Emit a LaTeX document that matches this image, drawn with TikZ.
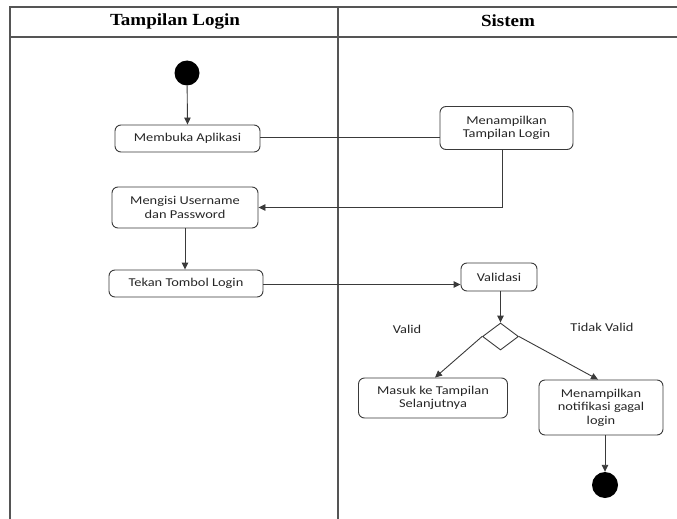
\documentclass[tikz,border=0pt]{standalone}
\usepackage{fontspec}
\setmainfont{Carlito}
\newfontfamily\hdrfont[FakeStretch=1.12]{Liberation Serif}
\newfontfamily\boxfont[FakeStretch=1.2]{Carlito}
\usetikzlibrary{shapes.geometric,arrows.meta}
\definecolor{ln}{HTML}{3A3A3A}
\definecolor{fr}{HTML}{555555}
\tikzset{
  act/.style={draw=ln, line width=0.9pt, rounded corners=6pt, align=center, inner sep=0pt,
    font=\boxfont\fontsize{12}{13.6}\selectfont, text=black!85},
  dot/.style={circle, fill=black, inner sep=0pt, minimum size=#1},
  conn/.style={draw=ln, line width=0.9pt},
  arr/.style={conn, -{Triangle[length=7pt,width=6.5pt]}},
  frame/.style={draw=fr, line width=1.3pt},
  hdr/.style={font=\hdrfont\bfseries\fontsize{17}{20}\selectfont},
  lbl/.style={font=\boxfont\fontsize{12}{13.6}\selectfont, text=black!85}
}
\begin{document}
\begin{tikzpicture}[x=1pt,y=-1pt]
\useasboundingbox (0,0) rectangle (677,519);
% frame
\coordinate (tl) at (10,7);
\coordinate (tr) at (677,7);
\coordinate (hl) at (10,37);
\coordinate (hr) at (677,37);
\coordinate (bl) at (10,519);
\coordinate (dt) at (338,7);
\coordinate (db) at (338,519);
\draw[frame] (tr) -- (tl) -- (bl);
\draw[frame] (hl) -- (hr);
\draw[frame] (dt) -- (db);
\node[hdr] (h1) at (175,21) {Tampilan Login};
\node[hdr] (h2) at (508,21) {Sistem};
% nodes
\node[dot=25pt] (start) at (187,73) {};
\node[act, minimum width=145pt, minimum height=27pt] (membuka) at (187.5,138.5) {Membuka Aplikasi};
\node[act, minimum width=133pt, minimum height=43pt] (tampil) at (506.5,128) {Menampilkan\\Tampilan Login};
\node[act, minimum width=146pt, minimum height=41pt] (mengisi) at (185,207.5) {Mengisi Username\\dan Password};
\node[act, minimum width=154pt, minimum height=27pt] (tekan) at (186,283.5) {Tekan Tombol Login};
\node[act, minimum width=76pt, minimum height=28pt] (validasi) at (499,277) {Validasi};
\node[draw=ln, line width=0.9pt, diamond, aspect=1.33, minimum width=36pt, minimum height=27pt, inner sep=0pt] (dec) at (500.5,336.5) {};
\node[act, minimum width=149pt, minimum height=40pt] (masuk) at (433,398) {Masuk ke Tampilan\\Selanjutnya};
\node[act, minimum width=124pt, minimum height=55pt] (notif) at (601,407.5) {Menampilkan\\notifikasi gagal\\login};
\node[dot=26pt] (end) at (605,485) {};
\node[lbl] (valid) at (407,329) {Valid};
\node[lbl] (tvalid) at (602,327) {Tidak Valid};
% connectors
\draw[arr] (start) -- (membuka.north);
\draw[conn] (membuka.east |- 0,137.5) -- (tampil.west |- 0,137.5);
\draw[arr] ([xshift=-4.5pt]tampil.south) |- (mengisi.east);
\draw[arr] (mengisi.south) -- (mengisi.south |- tekan.north);
\draw[arr] ([yshift=-1pt]tekan.east) -- ([yshift=-1pt]tekan.east -| validasi.west);
\draw[arr] ([xshift=1.5pt]validasi.south) -- (dec.north);
\draw[arr] (dec.west) -- ([xshift=2pt]masuk.north);
\draw[arr] (dec.east) -- ([xshift=-3pt]notif.north);
\draw[arr] (end.north |- notif.south) -- (end.north);
\end{tikzpicture}
\end{document}
